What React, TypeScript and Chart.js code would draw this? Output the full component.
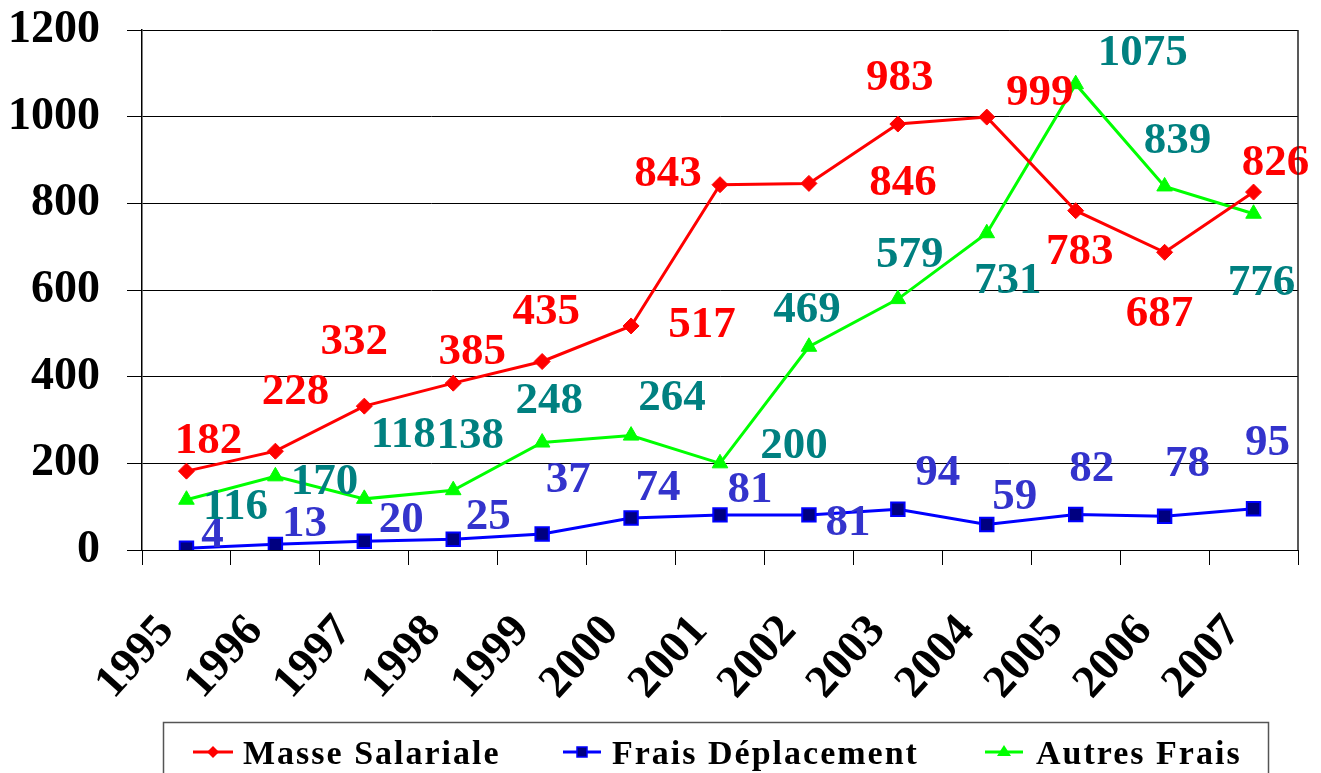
import React, { useEffect, useRef } from 'react';
import { Chart, registerables } from 'chart.js';

Chart.register(...registerables);

const years = ['1995', '1996', '1997', '1998', '1999', '2000', '2001', '2002', '2003', '2004', '2005', '2006', '2007'];
const masseSalariale = [182, 228, 332, 385, 435, 517, 843, 846, 983, 999, 783, 687, 826];
const fraisDeplacement = [4, 13, 20, 25, 37, 74, 81, 81, 94, 59, 82, 78, 95];
const autresFrais = [116, 170, 118, 138, 248, 264, 200, 469, 579, 731, 1075, 839, 776];
const seriesNames = ['Masse Salariale', 'Frais Déplacement', 'Autres Frais'];
const yMin = 0;
const yMax = 1200;
const yStep = 200;

// label placement offsets (style, in px relative to each point)
const masseLabelOffsets = [[22, -33], [20, -63], [-10, -67], [19, -34], [4, -53], [71, -4], [-52, -14], [94, -4], [2, -49], [53, -27], [4, 38], [-5, 58], [22, -32]];
const fraisLabelOffsets = [[26, -17], [29, -24], [37, -25], [35, -25], [26, -57], [27, -33], [30, -28], [39, 5], [40, -40], [28, -31], [16, -49], [23, -56], [14, -69]];
const autresLabelOffsets = [[49, 4], [49, 2], [39, -67], [17, -58], [7, -45], [41, -41], [74, -21], [-2, -40], [12, -47], [21, 44], [67, -34], [13, -49], [8, 66]];

const SERIF = "'Liberation Serif', 'Times New Roman', serif";
const LABEL_FONT = 45;

const labelPlugin = {
  id: 'valueLabels',
  afterDatasetsDraw(chart: any) {
    const ctx = chart.ctx;
    const offsets = [masseLabelOffsets, fraisLabelOffsets, autresLabelOffsets];
    const colors = ['#ff0000', '#3333cc', '#008080'];
    ctx.save();
    ctx.font = `bold ${LABEL_FONT}px ${SERIF}`;
    ctx.textAlign = 'center';
    ctx.textBaseline = 'alphabetic';
    chart.data.datasets.forEach((ds: any, di: number) => {
      const meta = chart.getDatasetMeta(di);
      ctx.fillStyle = colors[di];
      meta.data.forEach((pt: any, i: number) => {
        const o = offsets[di][i];
        ctx.fillText(String(ds.data[i]), pt.x + o[0], pt.y + o[1] + LABEL_FONT * 0.34);
      });
    });
    const a = chart.chartArea;
    ctx.strokeStyle = '#222';
    ctx.lineWidth = 1.5;
    ctx.beginPath();
    ctx.moveTo(a.right, a.top);
    ctx.lineTo(a.right, a.bottom);
    ctx.stroke();
    ctx.restore();
  },
};

const legendPlugin = {
  id: 'boxLegend',
  afterDraw(chart: any) {
    const ctx = chart.ctx;
    ctx.save();
    ctx.strokeStyle = '#555';
    ctx.lineWidth = 1.5;
    ctx.strokeRect(163.5, 722.5, 1105, 120);
    const items = [
      { x0: 193, x1: 233, tx: 243, color: '#ff0000', fill: '#ff0000', style: 'diamond' },
      { x0: 563, x1: 601, tx: 612, color: '#0000ff', fill: '#000080', style: 'square' },
      { x0: 985, x1: 1023, tx: 1036, color: '#00ff00', fill: '#00ff00', style: 'triangle' },
    ];
    const ly = 752;
    items.forEach((it, i) => {
      ctx.strokeStyle = it.color;
      ctx.lineWidth = 3;
      ctx.beginPath();
      ctx.moveTo(it.x0, ly);
      ctx.lineTo(it.x1, ly);
      ctx.stroke();
      const cx = (it.x0 + it.x1) / 2;
      ctx.fillStyle = it.fill;
      ctx.beginPath();
      if (it.style === 'diamond') {
        ctx.moveTo(cx, ly - 6); ctx.lineTo(cx + 6, ly); ctx.lineTo(cx, ly + 6); ctx.lineTo(cx - 6, ly); ctx.closePath();
        ctx.fill();
      } else if (it.style === 'square') {
        ctx.rect(cx - 5, ly - 5, 10, 10);
        ctx.fill();
        ctx.lineWidth = 1.5;
        ctx.stroke();
      } else {
        ctx.moveTo(cx, ly - 7); ctx.lineTo(cx + 7, ly + 4); ctx.lineTo(cx - 7, ly + 4); ctx.closePath();
        ctx.fill();
      }
      ctx.fillStyle = '#000';
      ctx.font = `bold 34px ${SERIF}`;
      (ctx as any).letterSpacing = '2px';
      ctx.textAlign = 'left';
      ctx.textBaseline = 'alphabetic';
      ctx.fillText(seriesNames[i], it.tx, 764);
      (ctx as any).letterSpacing = '0px';
    });
    ctx.restore();
  },
};

export default function App() {
  const ref = useRef<HTMLCanvasElement | null>(null);
  useEffect(() => {
    document.body.style.margin = '0';
    const canvas = ref.current;
    if (!canvas) return;
    const chart = new Chart(canvas, {
      type: 'line',
      data: {
        labels: years,
        datasets: [
          {
            label: seriesNames[0],
            data: masseSalariale,
            borderColor: '#ff0000',
            backgroundColor: '#ff0000',
            borderWidth: 3,
            pointStyle: 'rectRot',
            pointRadius: 8,
            pointBackgroundColor: '#ff0000',
            pointBorderColor: '#ff0000',
            pointBorderWidth: 1,
            tension: 0,
          },
          {
            label: seriesNames[1],
            data: fraisDeplacement,
            borderColor: '#0000ff',
            backgroundColor: '#000080',
            borderWidth: 3,
            pointStyle: 'rect',
            pointRadius: 9.5,
            pointBackgroundColor: '#000080',
            pointBorderColor: '#0000ff',
            pointBorderWidth: 2,
            tension: 0,
          },
          {
            label: seriesNames[2],
            data: autresFrais,
            borderColor: '#00ff00',
            backgroundColor: '#00ff00',
            borderWidth: 3,
            pointStyle: 'triangle',
            pointRadius: 9,
            pointBackgroundColor: '#00ff00',
            pointBorderColor: '#00ff00',
            pointBorderWidth: 1,
            tension: 0,
          },
        ],
      },
      options: {
        animation: false,
        responsive: false,
        maintainAspectRatio: false,
        layout: { padding: { top: 30, right: 23, left: 0, bottom: 60 } },
        plugins: {
          legend: { display: false },
          tooltip: { enabled: false },
          title: { display: false },
        },
        scales: {
          x: {
            type: 'category',
            offset: true,
            grid: {
              offset: true,
              drawOnChartArea: false,
              drawTicks: true,
              tickLength: 15,
              color: '#000',
              lineWidth: 1,
            },
            border: { display: true, color: '#000', width: 1 },
            ticks: {
              autoSkip: false,
              minRotation: 48,
              maxRotation: 48,
              padding: 40,
              labelOffset: -20,
              color: '#000',
              font: { family: SERIF, size: 46, weight: 'bold' },
            },
            afterFit(scale: any) {
              scale.height = 163;
              scale.paddingLeft = 0;
              scale.paddingRight = 0;
              scale.paddingTop = 0;
              scale.paddingBottom = 0;
            },
          },
          y: {
            min: yMin,
            max: yMax,
            grid: {
              color: '#000',
              lineWidth: 1,
              drawTicks: true,
              tickLength: 15,
            },
            border: { display: true, color: '#000', width: 1.5 },
            ticks: {
              stepSize: yStep,
              padding: 27,
              color: '#000',
              font: { family: SERIF, size: 46, weight: 'bold' },
              callback: (v: any) => String(v),
            },
            afterFit(scale: any) {
              scale.width = 142;
              scale.paddingLeft = 0;
              scale.paddingRight = 0;
              scale.paddingTop = 0;
              scale.paddingBottom = 0;
            },
          },
        },
      },
      plugins: [labelPlugin, legendPlugin],
    } as any);
    return () => chart.destroy();
  }, []);
  return (
    <div style={{ width: 1321, height: 773, overflow: 'hidden' }}>
      <canvas ref={ref} width={1321} height={773} style={{ display: 'block' }} />
    </div>
  );
}
